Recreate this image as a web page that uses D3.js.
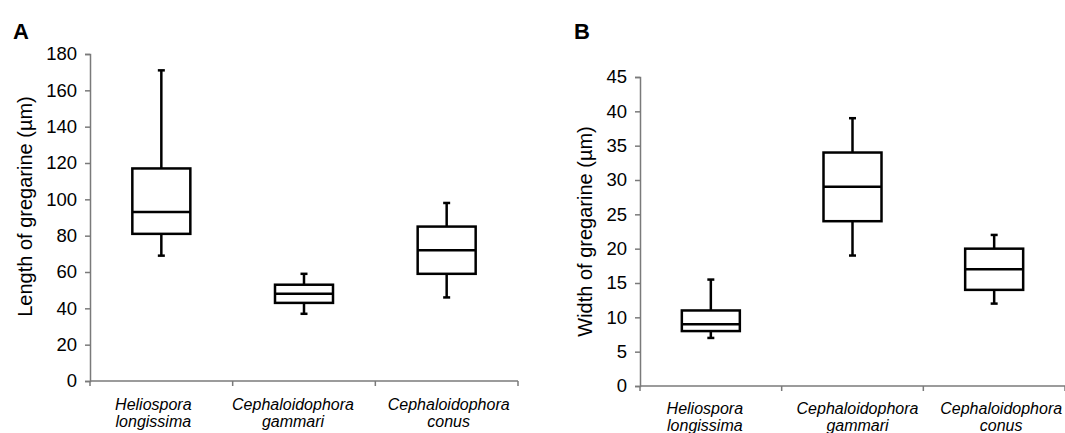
<!DOCTYPE html>
<html>
<head>
<meta charset="utf-8">
<script src="https://cdn.jsdelivr.net/npm/d3@7"></script>
<style>
  body { margin: 0; background: #fff; }
  text { font-family: "Liberation Sans", Arial, sans-serif; fill: #000; }
</style>
</head>
<body>
<svg width="1065" height="433"></svg>
<script>
// species on the x axis, two lines each
const species = ["Heliospora longissima", "Cephaloidophora gammari", "Cephaloidophora conus"];
const speciesLine1 = ["Heliospora", "Cephaloidophora", "Cephaloidophora"];
const speciesLine2 = ["longissima", "gammari", "conus"];

// panel A: length (µm)
const lengthMin = [69, 37, 46];
const lengthQ1 = [81, 43, 59];
const lengthMedian = [93, 48, 72];
const lengthQ3 = [117, 53, 85];
const lengthMax = [171, 59, 98];
const lengthTicks = [0, 20, 40, 60, 80, 100, 120, 140, 160, 180];

// panel B: width (µm)
const widthMin = [7, 19, 12];
const widthQ1 = [8, 24, 14];
const widthMedian = [9, 29, 17];
const widthQ3 = [11, 34, 20];
const widthMax = [15.5, 39, 22];
const widthTicks = [0, 5, 10, 15, 20, 25, 30, 35, 40, 45];

const svg = d3.select("svg");

const drawPanel = function(p) {
    const g = svg.append("g");

    const x = d3.scaleBand().domain(species).range([p.left, p.right]);
    const y = d3.scaleLinear().domain([0, d3.max(p.ticks)]).range([p.bottom, p.top]);

    // y axis
    const yAxis = g.append("g")
        .attr("transform", "translate(" + p.left + ",0)")
        .call(d3.axisLeft(y).tickValues(p.ticks).tickSize(5).tickPadding(8).tickFormat(d3.format("d")));
    yAxis.select(".domain").attr("stroke", "#7a7a7a").attr("stroke-width", 1.5);
    yAxis.selectAll(".tick line").attr("stroke", "#7a7a7a").attr("stroke-width", 1.5);
    yAxis.selectAll(".tick text")
        .style("font-size", "18.5px")
        .style("font-family", "'Liberation Sans', Arial, sans-serif")
        .attr("fill", "#000");

    // x axis: line with ticks at band edges
    g.append("line")
        .attr("x1", p.left).attr("x2", p.right)
        .attr("y1", p.bottom).attr("y2", p.bottom)
        .attr("stroke", "#7a7a7a").attr("stroke-width", 1.5);
    const edges = species.map(d => x(d)).concat([p.right]);
    g.selectAll(".xtick")
        .data(edges)
        .enter()
        .append("line")
        .attr("x1", d => d).attr("x2", d => d)
        .attr("y1", p.bottom).attr("y2", p.bottom + 5)
        .attr("stroke", "#7a7a7a").attr("stroke-width", 1.5);

    // category labels
    const lab = g.selectAll(".cat")
        .data(species)
        .enter()
        .append("text")
        .attr("text-anchor", "middle")
        .style("font-size", "16px")
        .style("font-style", "italic")
        .attr("transform", (d, i) => "translate(" + (x(d) + x.bandwidth() / 2 + p.labelDx[i]) + "," + p.labelY + ")");
    lab.append("tspan").attr("x", 0).attr("y", 0).text((d, i) => speciesLine1[i]);
    lab.append("tspan").attr("x", 0).attr("y", 16.5).text((d, i) => speciesLine2[i]);

    // boxes
    const boxW = 58;
    const capW = 7;
    const boxes = g.selectAll(".box")
        .data(species)
        .enter()
        .append("g")
        .attr("transform", d => "translate(" + (x(d) + x.bandwidth() / 2) + ",0)");

    const stroke = function(sel) {
        return sel.attr("stroke", "#000").attr("stroke-width", 2.5).attr("fill", "none");
    };

    // whiskers
    boxes.append("line").call(stroke)
        .attr("x1", 0).attr("x2", 0)
        .attr("y1", (d, i) => y(p.q3[i])).attr("y2", (d, i) => y(p.max[i]));
    boxes.append("line").call(stroke)
        .attr("x1", 0).attr("x2", 0)
        .attr("y1", (d, i) => y(p.q1[i])).attr("y2", (d, i) => y(p.min[i]));
    boxes.append("line").call(stroke)
        .attr("x1", -capW / 2).attr("x2", capW / 2)
        .attr("y1", (d, i) => y(p.max[i])).attr("y2", (d, i) => y(p.max[i]));
    boxes.append("line").call(stroke)
        .attr("x1", -capW / 2).attr("x2", capW / 2)
        .attr("y1", (d, i) => y(p.min[i])).attr("y2", (d, i) => y(p.min[i]));

    // box
    boxes.append("rect").call(stroke)
        .attr("fill", "#fff")
        .attr("x", -boxW / 2).attr("width", boxW)
        .attr("y", (d, i) => y(p.q3[i]))
        .attr("height", (d, i) => y(p.q1[i]) - y(p.q3[i]));
    boxes.append("line").call(stroke)
        .attr("x1", -boxW / 2).attr("x2", boxW / 2)
        .attr("y1", (d, i) => y(p.median[i])).attr("y2", (d, i) => y(p.median[i]));

    // y title
    g.append("text")
        .attr("text-anchor", "middle")
        .style("font-size", "20px")
        .attr("transform", "translate(" + p.titleX + "," + ((p.top + p.bottom) / 2 + p.titleDy) + ") rotate(-90)")
        .text(p.title);

    // panel letter
    g.append("text")
        .attr("x", p.letterX).attr("y", 39)
        .style("font-size", "22px")
        .style("font-weight", "bold")
        .text(p.letter);
};

drawPanel({
    left: 90, right: 518, top: 54, bottom: 381,
    ticks: lengthTicks,
    min: lengthMin, q1: lengthQ1, median: lengthMedian, q3: lengthQ3, max: lengthMax,
    title: "Length of gregarine (µm)", titleX: 32, titleDy: -11,
    letter: "A", letterX: 13,
    labelY: 410, labelDx: [-8, -11, 2]
});

drawPanel({
    left: 640, right: 1065, top: 77, bottom: 386,
    ticks: widthTicks,
    min: widthMin, q1: widthQ1, median: widthMedian, q3: widthQ3, max: widthMax,
    title: "Width of gregarine (µm)", titleX: 592, titleDy: 0,
    letter: "B", letterX: 574,
    labelY: 414, labelDx: [-6, 5, 7]
});
</script>
</body>
</html>
